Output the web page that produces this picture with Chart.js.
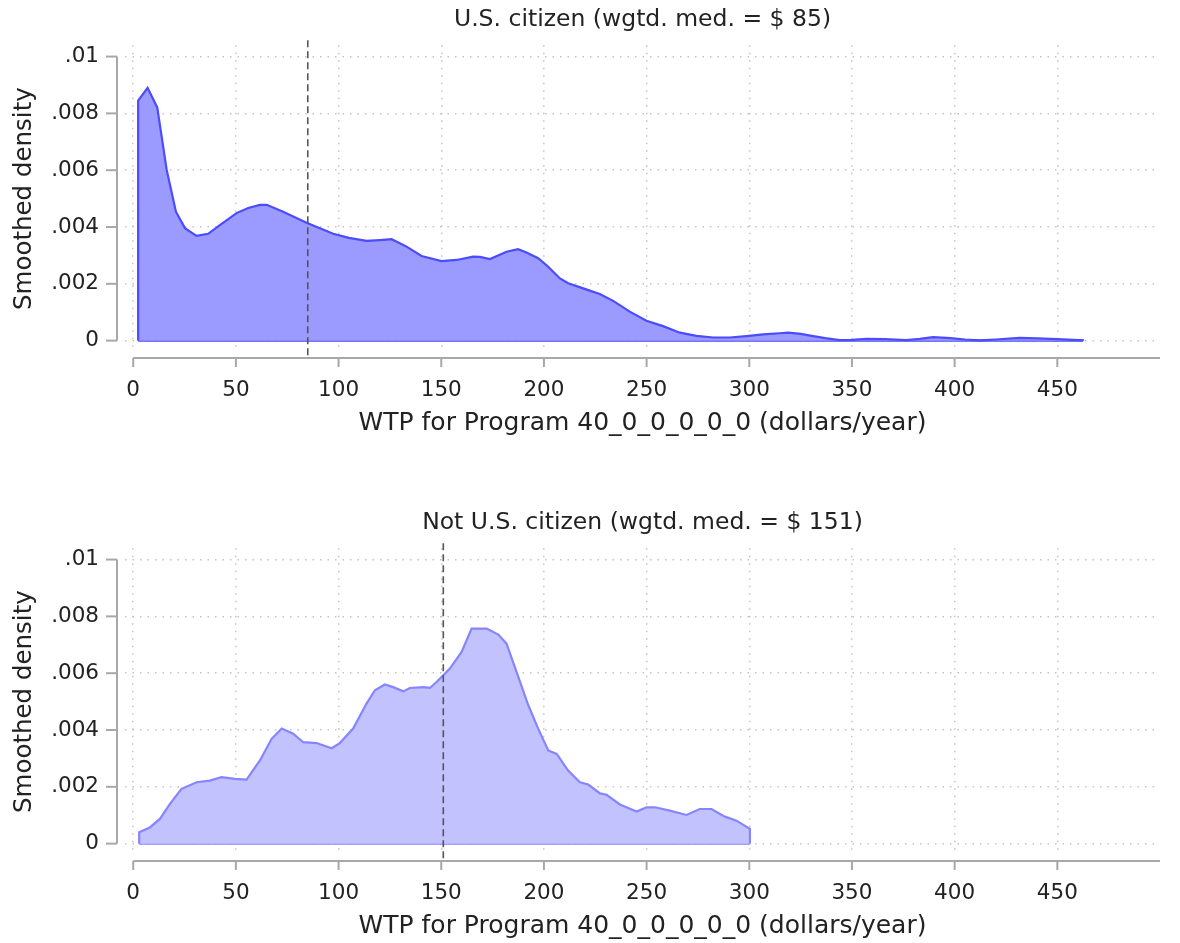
<!DOCTYPE html>
<html>
<head>
<meta charset="utf-8">
<title>WTP density by citizenship</title>
<script src="https://cdn.jsdelivr.net/npm/chart.js@4.4.0/dist/chart.umd.min.js"></script>
<style>
    html, body { margin: 0; padding: 0; background: #ffffff; }
    .panel { position: absolute; left: 0; width: 1180px; height: 440px; }
</style>
</head>
<body>
<div class="panel" style="top:0px"><canvas id="citizenChart" width="1180" height="440"></canvas></div>
<div class="panel" style="top:503px"><canvas id="nonCitizenChart" width="1180" height="440"></canvas></div>

<script>
// ===============================
// Data
// ===============================
const panelTitles = ["U.S. citizen (wgtd. med. = $ 85)", "Not U.S. citizen (wgtd. med. = $ 151)"];
const medians = [85, 151];
const xTitle = "WTP for Program 40_0_0_0_0_0 (dollars/year)";
const yTitle = "Smoothed density";

const xTicks = [0, 50, 100, 150, 200, 250, 300, 350, 400, 450];
const yTicks = [0, 0.002, 0.004, 0.006, 0.008, 0.01];
const yTickLabels = ["0", ".002", ".004", ".006", ".008", ".01"];

// U.S. citizen
const citizenX = [2.4, 7.0, 11.7, 16.3, 20.8, 25.2, 30.8, 36.5, 42.2, 50.3, 56, 61.7, 65, 73, 84.4, 97.4, 105, 113.6,
    120.2, 125.8, 129.8, 133.1, 140.4, 150.1, 157.5, 165.5, 168.8, 173.7, 181.8, 187.4, 191.5, 197.2, 202.1, 207.8,
    211.8, 219.1, 227.2, 233.7, 241.8, 249.9, 258, 266.2, 274.3, 282.4, 290.5, 298.6, 306.7, 314.8, 318.9, 325,
    331.1, 337, 344, 350, 357, 366, 376.5, 383, 389.5, 398, 405, 412, 420, 431.6, 440, 450, 462.5];
const citizenY = [0.00845, 0.0089, 0.00821, 0.00601, 0.00454, 0.00396, 0.00369, 0.00376, 0.00407, 0.00449, 0.00467,
    0.00478, 0.00478, 0.00454, 0.00415, 0.00376, 0.00362, 0.00351,
    0.00354, 0.00357, 0.00343, 0.00331, 0.00298, 0.0028, 0.00284, 0.00296, 0.00295, 0.00287, 0.00313, 0.00322,
    0.0031, 0.0029, 0.0026, 0.00219, 0.00202, 0.00184, 0.00164, 0.0014, 0.00102, 0.0007, 0.00051, 0.00028, 0.00017,
    0.00011, 0.00011, 0.00016, 0.00022, 0.00026, 0.00028, 0.00024, 0.00016, 0.00009, 0.00002, 0.00003, 0.00006,
    0.00005, 0.00002, 0.00006, 0.00012, 0.00009, 0.00004, 0.00001, 0.00004, 0.0001, 0.00008, 0.00005, 0.00001];

// Not U.S. citizen
const nonCitizenX = [2.9, 8.1, 13, 17.9, 23.5, 30.9, 37.3, 43, 49.5, 55.2, 61.7, 67.4, 72.3, 77.9, 82.8, 89.3, 96.6,
    100.6, 107.1, 113.6, 117.7, 122.5, 126.6, 131.5, 134.7, 141.2, 144.5, 147.7, 151, 154.2, 159.9, 164.8, 172.1,
    177.8, 181.8, 186.7, 192.4, 197.2, 202.1, 206.2, 211.8, 217.5, 221.6, 227.3, 230.5, 237, 245.1, 250, 254, 261.3,
    269.4, 275.9, 281.6, 288.1, 293.8, 300.3];
const nonCitizenY = [0.0004, 0.00057, 0.00087, 0.0014, 0.00193, 0.00216, 0.00222, 0.00234, 0.00228, 0.00225, 0.00293,
    0.00369, 0.00405, 0.00387, 0.00357, 0.00354, 0.00336, 0.00354, 0.00405, 0.00493, 0.0054, 0.0056, 0.00551,
    0.00536, 0.00548, 0.00551, 0.00548, 0.00569, 0.00593, 0.00616, 0.00675, 0.00757, 0.00757, 0.00736, 0.00704,
    0.00604, 0.00487, 0.00405, 0.00328, 0.00316, 0.00257, 0.00216, 0.00208, 0.00177, 0.00172, 0.00138, 0.00113,
    0.00128, 0.00128, 0.00116, 0.00101, 0.00122, 0.00122, 0.00095, 0.00081, 0.00052];

// ===============================
// Stata-like axes + median line
// ===============================
const stataAxes = {
    id: "stataAxes",
    afterDatasetsDraw(chart, args, opts) {
        const { ctx, chartArea, scales } = chart;
        const x = scales.x, y = scales.y;
        ctx.save();

        // median
        const mx = x.getPixelForValue(opts.median);
        ctx.strokeStyle = "#555555";
        ctx.lineWidth = 1.6;
        ctx.setLineDash([7, 4]);
        ctx.beginPath();
        ctx.moveTo(mx, chartArea.top - 5);
        ctx.lineTo(mx, chartArea.bottom + 5);
        ctx.stroke();
        ctx.setLineDash([]);

        ctx.strokeStyle = "#a8a8a8";
        ctx.lineWidth = 2;

        // y axis
        const ax = chartArea.left - 8;
        ctx.beginPath();
        ctx.moveTo(ax, y.getPixelForValue(yTicks[yTicks.length - 1]));
        ctx.lineTo(ax, y.getPixelForValue(yTicks[0]));
        ctx.stroke();
        yTicks.forEach(v => {
            const py = y.getPixelForValue(v);
            ctx.beginPath();
            ctx.moveTo(ax - 11, py);
            ctx.lineTo(ax, py);
            ctx.stroke();
        });

        // x axis
        const ay = chartArea.bottom + 6;
        ctx.beginPath();
        ctx.moveTo(x.getPixelForValue(xTicks[0]), ay);
        ctx.lineTo(chartArea.right, ay);
        ctx.stroke();
        xTicks.forEach(v => {
            const px = x.getPixelForValue(v);
            ctx.beginPath();
            ctx.moveTo(px, ay);
            ctx.lineTo(px, ay + 9);
            ctx.stroke();
        });

        ctx.restore();
    }
};

const fontFamily = "'DejaVu Sans', sans-serif";
const textColor = "#222222";

function makeChart(canvasId, title, xs, ys, median, lineColor, fillColor) {

    const curve = xs.map((v, i) => ({ x: v, y: ys[i] }));
    const outline = [{ x: xs[0], y: 0 }].concat(curve, [{ x: xs[xs.length - 1], y: 0 }]);

    return new Chart(document.getElementById(canvasId), {
        type: "line",
        data: {
            datasets: [{
                data: outline,
                borderColor: lineColor,
                backgroundColor: fillColor,
                borderWidth: 2.2,
                fill: "origin",
                tension: 0,
                pointRadius: 0
            }, {
                data: [{ x: xs[0], y: 0 }, { x: xs[xs.length - 1], y: 0 }],
                borderColor: lineColor,
                borderWidth: 2.2,
                fill: false,
                pointRadius: 0
            }]
        },
        options: {
            responsive: false,
            animation: false,
            devicePixelRatio: 1,
            layout: { padding: { left: 0, right: 20, top: 0, bottom: 0 } },
            plugins: {
                legend: { display: false },
                tooltip: { enabled: false },
                title: {
                    display: true,
                    text: title,
                    fullSize: false,
                    color: textColor,
                    font: { family: fontFamily, size: 23.5, weight: "normal" },
                    padding: { top: 6, bottom: 11 }
                },
                stataAxes: { median: median }
            },
            scales: {
                x: {
                    type: "linear",
                    min: -4,
                    max: 500,
                    afterBuildTicks: s => { s.ticks = xTicks.map(v => ({ value: v })); },
                    afterFit: s => { s.height = 88; },
                    ticks: {
                        color: textColor,
                        font: { family: fontFamily, size: 21.5 },
                        padding: 26,
                        maxRotation: 0,
                        callback: v => String(v)
                    },
                    grid: { color: "#c4c4c4", lineWidth: 1.5, drawTicks: false },
                    border: { display: false, dash: [1.5, 6] },
                    title: {
                        display: true,
                        text: xTitle,
                        color: textColor,
                        font: { family: fontFamily, size: 25 },
                        padding: { top: 0, bottom: 2 }
                    }
                },
                y: {
                    type: "linear",
                    min: -0.0004,
                    max: 0.0104,
                    afterBuildTicks: s => { s.ticks = yTicks.map(v => ({ value: v })); },
                    afterFit: s => { s.width = 125; },
                    ticks: {
                        color: textColor,
                        font: { family: fontFamily, size: 21.5 },
                        padding: 26,
                        callback: (v, i) => yTickLabels[i]
                    },
                    grid: { color: "#c4c4c4", lineWidth: 1.5, drawTicks: false },
                    border: { display: false, dash: [1.5, 6] },
                    title: {
                        display: true,
                        text: yTitle,
                        color: textColor,
                        font: { family: fontFamily, size: 24.5 },
                        padding: { top: 10, bottom: 0 }
                    }
                }
            }
        },
        plugins: [stataAxes]
    });
}

makeChart("citizenChart", panelTitles[0], citizenX, citizenY, medians[0], "#4b4bff", "#9a9aff");
makeChart("nonCitizenChart", panelTitles[1], nonCitizenX, nonCitizenY, medians[1], "#8585ff", "#c2c2ff");
</script>
</body>
</html>
